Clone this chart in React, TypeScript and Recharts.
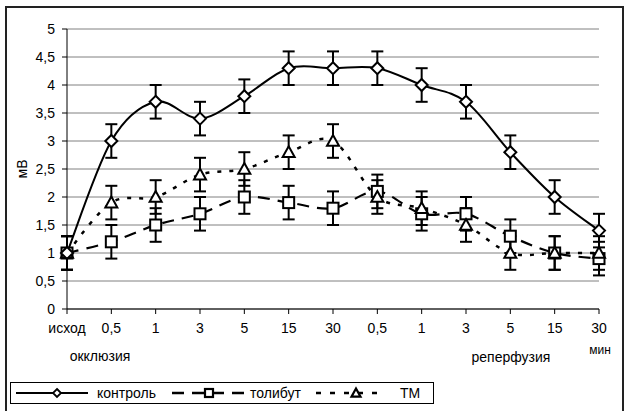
import React from 'react';
import { LineChart, Line, XAxis, YAxis, CartesianGrid, ErrorBar, Legend, Label } from 'recharts';

const categories = ['исход', '0,5', '1', '3', '5', '15', '30', '0,5', '1', '3', '5', '15', '30'];
const kontrol = [1.0, 3.0, 3.7, 3.4, 3.8, 4.3, 4.3, 4.3, 4.0, 3.7, 2.8, 2.0, 1.4];
const tolibut = [1.0, 1.2, 1.5, 1.7, 2.0, 1.9, 1.8, 2.1, 1.7, 1.7, 1.3, 1.0, 0.9];
const tm = [1.0, 1.9, 2.0, 2.4, 2.5, 2.8, 3.0, 2.0, 1.8, 1.5, 1.0, 1.0, 1.0];
const kontrolErr = [0.3, 0.3, 0.3, 0.3, 0.3, 0.3, 0.3, 0.3, 0.3, 0.3, 0.3, 0.3, 0.3];
const tolibutErr = [0.3, 0.3, 0.3, 0.3, 0.3, 0.3, 0.3, 0.3, 0.3, 0.3, 0.3, 0.3, 0.3];
const tmErr = [0.3, 0.3, 0.3, 0.3, 0.3, 0.3, 0.3, 0.3, 0.3, 0.3, 0.3, 0.3, 0.3];
const yTicks = [0, 0.5, 1, 1.5, 2, 2.5, 3, 3.5, 4, 4.5, 5];
const seriesNames = ['контроль', 'толибут', 'ТМ'];

const data = categories.map((label, i) => ({
  label,
  k: kontrol[i],
  kErr: kontrolErr[i],
  t: tolibut[i],
  tErr: tolibutErr[i],
  m: tm[i],
  mErr: tmErr[i],
}));

const FONT = '"Liberation Sans", Arial, sans-serif';

// Excel-like smoothing (Catmull-Rom style bezier)
const excelSmooth: any = (context: any) => {
  let pts: number[][] = [];
  return {
    areaStart() {},
    areaEnd() {},
    lineStart() {
      pts = [];
    },
    lineEnd() {
      const n = pts.length;
      if (n === 0) return;
      context.moveTo(pts[0][0], pts[0][1]);
      for (let i = 0; i < n - 1; i++) {
        const p0 = pts[i - 1] || pts[i];
        const p1 = pts[i];
        const p2 = pts[i + 1];
        const p3 = pts[i + 2] || p2;
        context.bezierCurveTo(
          p1[0] + (p2[0] - p0[0]) / 6,
          p1[1] + (p2[1] - p0[1]) / 6,
          p2[0] - (p3[0] - p1[0]) / 6,
          p2[1] - (p3[1] - p1[1]) / 6,
          p2[0],
          p2[1]
        );
      }
    },
    point(x: number, y: number) {
      pts.push([+x, +y]);
    },
  };
};

const Diamond = (cx: number, cy: number, r: number, sw: number, key?: any) => (
  <path
    key={key}
    d={`M${cx},${cy - r}L${cx + r},${cy}L${cx},${cy + r}L${cx - r},${cy}Z`}
    fill="#fff"
    stroke="#000"
    strokeWidth={sw}
  />
);
const Square = (cx: number, cy: number, r: number, sw: number, key?: any) => (
  <rect key={key} x={cx - r} y={cy - r} width={2 * r} height={2 * r} fill="#fff" stroke="#000" strokeWidth={sw} />
);
const Triangle = (cx: number, cy: number, r: number, sw: number, key?: any) => (
  <path
    key={key}
    d={`M${cx},${cy - r}L${cx + r},${cy + r * 0.8}L${cx - r},${cy + r * 0.8}Z`}
    fill="#fff"
    stroke="#000"
    strokeWidth={sw}
  />
);

const dotK = (p: any) => Diamond(p.cx, p.cy, 6, 2, p.key ?? `k${p.index}`);
const dotT = (p: any) => Square(p.cx, p.cy, 5.5, 2, p.key ?? `t${p.index}`);
const dotM = (p: any) => Triangle(p.cx, p.cy, 6, 2, p.key ?? `m${p.index}`);

const LegendContent = () => {
  const cy = 11;
  const txt = { fontFamily: FONT, fontSize: 14, fill: '#000' } as any;
  return (
    <svg width={424} height={22} style={{ display: 'block' }}>
      <rect x={0.5} y={0.5} width={423} height={21} fill="#fff" stroke="#000" strokeWidth={1} />
      <line x1={6} y1={cy} x2={78} y2={cy} stroke="#000" strokeWidth={2} />
      {Diamond(47, cy, 4, 1.8)}
      <text x={87} y={cy + 5} {...txt}>{seriesNames[0]}</text>
      <line x1={162} y1={cy} x2={236} y2={cy} stroke="#000" strokeWidth={2.5} strokeDasharray="12 8" />
      {Square(199, cy, 4, 2.2)}
      <text x={240} y={cy + 5} {...txt}>{seriesNames[1]}</text>
      <line x1={306} y1={cy} x2={373} y2={cy} stroke="#000" strokeWidth={2.5} strokeDasharray="5 9" />
      {Triangle(346, cy, 4.5, 2.2)}
      <text x={390} y={cy + 5} {...txt}>{seriesNames[2]}</text>
    </svg>
  );
};

const XLabels = () => (
  <g fontFamily={FONT} fontSize={14} fill="#000">
    <text x={100} y={361} textAnchor="middle">окклюзия</text>
    <text x={511} y={362} textAnchor="middle">реперфузия</text>
    <text x={600} y={354} textAnchor="middle" fontSize={12}>мин</text>
  </g>
);

const YLabel = () => (
  <text
    x={22}
    y={169}
    transform="rotate(-90 22 169)"
    textAnchor="middle"
    dominantBaseline="central"
    fontFamily={FONT}
    fontSize={14}
    fill="#000"
  >
    мВ
  </text>
);

export default function App() {
  return (
    <div style={{ position: 'absolute', left: 0, top: 0, width: 627, height: 411, background: '#fff', overflow: 'hidden' }}>
      <div
        style={{
          position: 'absolute',
          left: 5,
          top: 6,
          width: 619,
          height: 420,
          border: '2px solid #222',
          boxSizing: 'border-box',
        }}
      />
      <LineChart width={627} height={411} data={data} margin={{ top: 29, right: 28, bottom: 72, left: 0 }}>
        <CartesianGrid vertical={false} stroke="#808080" strokeWidth={1} />
        <XAxis
          dataKey="label"
          interval={0}
          height={30}
          tickSize={5}
          tickMargin={9}
          stroke="#000"
          tick={{ fill: '#000', fontSize: 14, fontFamily: FONT }}
        >
          <Label content={XLabels} />
        </XAxis>
        <YAxis
          width={67}
          domain={[0, 5]}
          ticks={yTicks}
          interval={0}
          tickSize={5}
          tickMargin={7}
          stroke="#000"
          tickFormatter={(v: number) => String(v).replace('.', ',')}
          tick={{ fill: '#000', fontSize: 14, fontFamily: FONT }}
        >
          <Label content={YLabel} />
        </YAxis>
        <Line
          dataKey="t"
          name={seriesNames[1]}
          type={excelSmooth}
          stroke="#000"
          strokeWidth={2.2}
          strokeDasharray="12 8"
          dot={dotT}
          isAnimationActive={false}
        >
          <ErrorBar dataKey="tErr" direction="y" width={6} stroke="#000" strokeWidth={2} />
        </Line>
        <Line
          dataKey="m"
          name={seriesNames[2]}
          type={excelSmooth}
          stroke="#000"
          strokeWidth={2.5}
          strokeDasharray="4 8"
          dot={dotM}
          isAnimationActive={false}
        >
          <ErrorBar dataKey="mErr" direction="y" width={6} stroke="#000" strokeWidth={2} />
        </Line>
        <Line
          dataKey="k"
          name={seriesNames[0]}
          type={excelSmooth}
          stroke="#000"
          strokeWidth={2}
          dot={dotK}
          isAnimationActive={false}
        >
          <ErrorBar dataKey="kErr" direction="y" width={6} stroke="#000" strokeWidth={2} />
        </Line>
        <Legend
          layout="horizontal"
          verticalAlign="middle"
          align="center"
          content={LegendContent}
          wrapperStyle={{ position: 'absolute', left: 10, top: 382, width: 424, height: 22 }}
        />
      </LineChart>
    </div>
  );
}
